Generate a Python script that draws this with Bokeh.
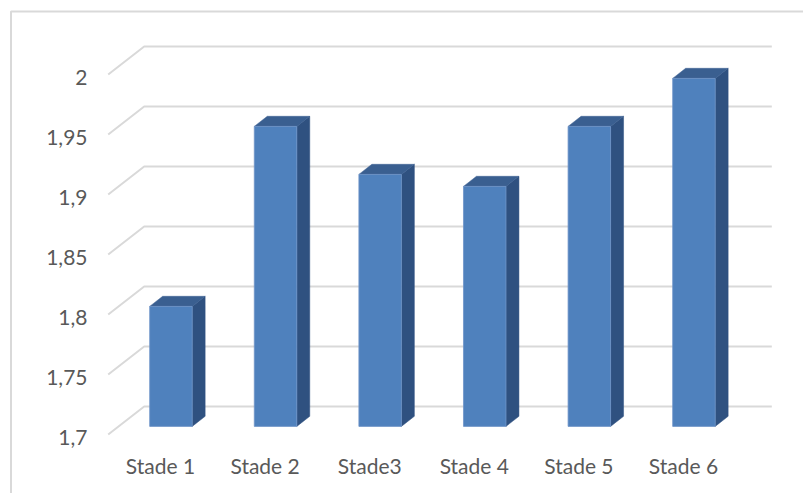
from bokeh.plotting import figure
from bokeh.models import Range1d
from bokeh.core.properties import value
from bokeh.embed import file_html
from bokeh.resources import INLINE

# ---- data ----
categories = ["Stade 1", "Stade 2", "Stade3", "Stade 4", "Stade 5", "Stade 6"]
values = [1.80, 1.95, 1.91, 1.90, 1.95, 1.99]
y_ticks = [1.7, 1.75, 1.8, 1.85, 1.9, 1.95, 2.0]
y_tick_labels = ["1,7", "1,75", "1,8", "1,85", "1,9", "1,95", "2"]
y_base = 1.7

# ---- geometry (pixel scale used to set ranges) ----
W, H = 803, 493
PX_PER_CAT = 104.6
PX_PER_VAL = 1200.0
X0_PX = 160.0   # pixel of category 0 on front plane
Y0_PX = 434.0   # pixel of base value on front plane

x_start = -X0_PX / PX_PER_CAT
x_end = (W - X0_PX) / PX_PER_CAT
y_start = y_base - (H - Y0_PX) / PX_PER_VAL
y_end = y_base + Y0_PX / PX_PER_VAL

DX = 36 / PX_PER_CAT      # full depth, x
DY = 28 / PX_PER_VAL      # full depth, y
F0, F1 = 0.29, 0.65       # bar front/back depth fractions
BW = 42.5 / PX_PER_CAT    # bar width

p = figure(width=W, height=H, output_backend="svg", toolbar_location=None,
           x_range=Range1d(x_start, x_end), y_range=Range1d(y_start, y_end),
           min_border=0, x_axis_type=None, y_axis_type=None)
p.grid.visible = False
p.outline_line_color = None
p.background_fill_color = "white"
p.border_fill_color = "white"

grid_col = "#D9D9D9"
n = len(categories)
xl = -0.5
xr = n - 0.5

# gridlines: left wall diagonals + back wall horizontals
for t in y_ticks:
    p.line([xl, xl + DX, xr + DX], [t, t + DY, t + DY], line_color=grid_col, line_width=2)

# outer chart border (top and left)
bx = x_start + 10.5 / PX_PER_CAT
by = y_end - 11 / PX_PER_VAL
p.line([bx, bx, x_end], [y_start, by, by], line_color=grid_col, line_width=2)

# bars
front_xs, front_ys, side_xs, side_ys, top_xs, top_ys = [], [], [], [], [], []
for i, v in enumerate(values):
    x0 = i + F0 * DX - BW / 2
    x1 = i + F0 * DX + BW / 2
    yb = y_base + F0 * DY
    yt = v + F0 * DY
    ddx = (F1 - F0) * DX
    ddy = (F1 - F0) * DY
    front_xs.append([x0, x1, x1, x0])
    front_ys.append([yb, yb, yt, yt])
    side_xs.append([x1, x1 + ddx, x1 + ddx, x1])
    side_ys.append([yb, yb + ddy, yt + ddy, yt])
    top_xs.append([x0, x1, x1 + ddx, x0 + ddx])
    top_ys.append([yt, yt, yt + ddy, yt + ddy])

p.patches(side_xs, side_ys, fill_color="#2F5180", line_color="#2F5180", line_width=0.5)
p.patches(top_xs, top_ys, fill_color="#3A5F90", line_color="#3A5F90", line_width=0.5)
p.patches(front_xs, front_ys, fill_color="#4F81BD", line_color="#6E94C8", line_width=0.8)

# y tick labels (front plane)
label_x = (87 - X0_PX) / PX_PER_CAT
p.text(x=[label_x] * len(y_ticks), y=y_ticks, text=y_tick_labels,
       text_align="right", text_baseline="middle", y_offset=3,
       text_font=value("Lato"), text_font_size="21px", text_color="#595959")

# category labels
p.text(x=list(range(n)), y=[y_base] * n, text=categories,
       text_align="center", text_baseline="middle", y_offset=31,
       text_font=value("Lato"), text_font_size="21px", text_color="#595959")

open("out.html", "w").write(file_html(p, INLINE))
